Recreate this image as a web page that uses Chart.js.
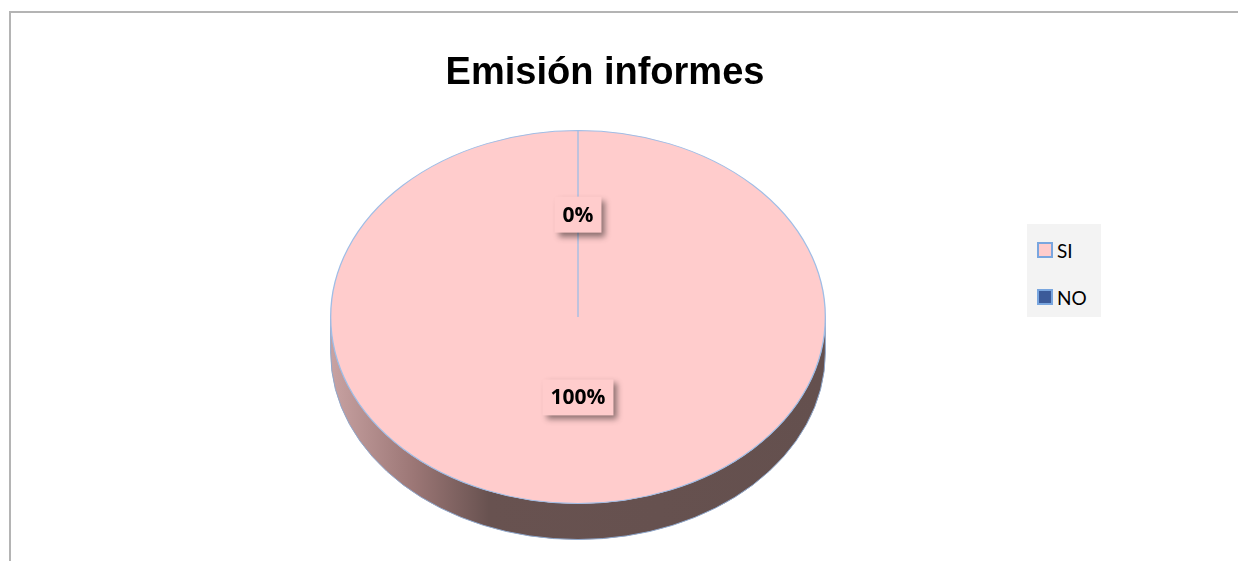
<!DOCTYPE html>
<html lang="es">
<head>
<meta charset="utf-8">
<title>Emisión informes</title>
<script src="https://cdn.jsdelivr.net/npm/chart.js@4.4.1/dist/chart.umd.min.js"></script>
<style>
  html, body { margin: 0; padding: 0; background: #fff; overflow: hidden; }
  #wrap { position: relative; width: 1238px; height: 561px; overflow: hidden; }
  #marco { position: absolute; left: 9px; top: 11px; width: 1300px; height: 600px;
           border-left: 2px solid #b4b4b4; border-top: 2px solid #b4b4b4; }
  #grafico { position: absolute; left: 0; top: 0; }
  #titulo { position: absolute; left: 0; width: 1210px; top: 50px; text-align: center;
            font: bold 38px "Liberation Sans", Arial, sans-serif; color: #000; }
  #leyenda { position: absolute; left: 1027px; top: 224px; width: 74px; height: 93px; background: #f3f3f3;
             font: 19px Lato, "Open Sans", sans-serif; color: #000; }
  .item { position: absolute; left: 10px; height: 20px; display: flex; align-items: center; }
  .cuadro { width: 12px; height: 12px; border: 2px solid #79a6df; margin-right: 4px; }
</style>
</head>
<body>
<div id="wrap">
  <div id="marco"></div>
  <canvas id="grafico" width="1238" height="561"></canvas>
  <div id="titulo">Emisión informes</div>
  <div id="leyenda"></div>
</div>
<script>
// Datos del gráfico
const CATEGORIAS = ['SI', 'NO'];
const VALORES = [100, 0];
const COLORES = ['#ffcccc', '#3b5a99'];

// Aspecto del pastel "3D"
const ESCALA_X = 248 / 187;   // estiramiento horizontal de la elipse
const GROSOR = 36;            // alto de la pared lateral
const RADIO_ETIQ = 0.49;      // posición de las etiquetas (fracción del radio)
const DESPLAZ_ETIQ = -11;     // corrección vertical de las etiquetas

/**
 * Plugin que dibuja la pared lateral y aplana el pastel en una elipse
 */
const pastel3d = {
    id: 'pastel3d',
    beforeDatasetsDraw(chart) {
        const arc = chart.getDatasetMeta(0).data[0];
        const cx = arc.x, cy = arc.y, r = arc.outerRadius;
        const rx = r * ESCALA_X, ry = r;
        const ctx = chart.ctx;

        // Pared lateral
        ctx.save();
        const grad = ctx.createLinearGradient(cx - rx, 0, cx + rx, 0);
        grad.addColorStop(0, 'rgb(200,162,162)');
        grad.addColorStop(0.17, 'rgb(155,118,117)');
        grad.addColorStop(0.32, 'rgb(104,82,80)');
        grad.addColorStop(1, 'rgb(100,80,78)');
        ctx.beginPath();
        ctx.ellipse(cx, cy, rx, ry, 0, 0, Math.PI);
        ctx.lineTo(cx - rx, cy + GROSOR);
        ctx.ellipse(cx, cy + GROSOR, rx, ry, 0, Math.PI, 0, true);
        ctx.closePath();
        ctx.fillStyle = grad;
        ctx.fill();
        ctx.strokeStyle = '#8fa7cb';
        ctx.lineWidth = 1;
        ctx.stroke();
        ctx.restore();

        // Estirar en horizontal lo que dibuja Chart.js
        ctx.save();
        ctx.translate(cx, cy);
        ctx.scale(ESCALA_X, 1);
        ctx.translate(-cx, -cy);
    },
    afterDatasetsDraw(chart) {
        const ctx = chart.ctx;
        ctx.restore();

        // Etiquetas de porcentaje
        const total = VALORES.reduce((a, b) => a + b, 0);
        const meta = chart.getDatasetMeta(0);
        meta.data.forEach((arc, i) => {
            const medio = (arc.startAngle + arc.endAngle) / 2;
            const x = arc.x + Math.cos(medio) * arc.outerRadius * RADIO_ETIQ * ESCALA_X;
            const y = arc.y + Math.sin(medio) * arc.outerRadius * RADIO_ETIQ + DESPLAZ_ETIQ;
            const texto = Math.round(VALORES[i] / total * 100) + '%';

            ctx.save();
            ctx.font = 'bold 21px "Open Sans", Lato, sans-serif';
            const ancho = ctx.measureText(texto).width + 16;
            const alto = 36;
            ctx.shadowColor = 'rgba(0,0,0,0.45)';
            ctx.shadowBlur = 6;
            ctx.shadowOffsetX = 4;
            ctx.shadowOffsetY = 4;
            ctx.fillStyle = COLORES[0];
            ctx.fillRect(x - ancho / 2, y - alto / 2, ancho, alto);
            ctx.shadowColor = 'transparent';
            ctx.fillStyle = '#000';
            ctx.textAlign = 'center';
            ctx.textBaseline = 'middle';
            ctx.fillText(texto, x, y + 1);
            ctx.restore();
        });
    }
};

// Leyenda
const leyenda = document.getElementById('leyenda');
CATEGORIAS.forEach((cat, i) => {
    const item = document.createElement('div');
    item.className = 'item';
    item.style.top = (16 + i * 47) + 'px';
    item.innerHTML = `<span class="cuadro" style="background:${COLORES[i]}"></span><span>${cat}</span>`;
    leyenda.appendChild(item);
});

const ctx = document.getElementById('grafico').getContext('2d');
new Chart(ctx, {
    type: 'pie',
    data: {
        labels: CATEGORIAS,
        datasets: [{
            data: VALORES,
            backgroundColor: COLORES,
            borderColor: '#9fbde6',
            borderWidth: 1,
            hoverOffset: 0,
            offset: 0
        }]
    },
    options: {
        responsive: false,
        animation: false,
        layout: {
            padding: { top: 130, bottom: 57, left: 100, right: 182 }
        },
        plugins: {
            legend: { display: false },
            title: { display: false },
            tooltip: { enabled: false }
        }
    },
    plugins: [pastel3d]
});
</script>
</body>
</html>
